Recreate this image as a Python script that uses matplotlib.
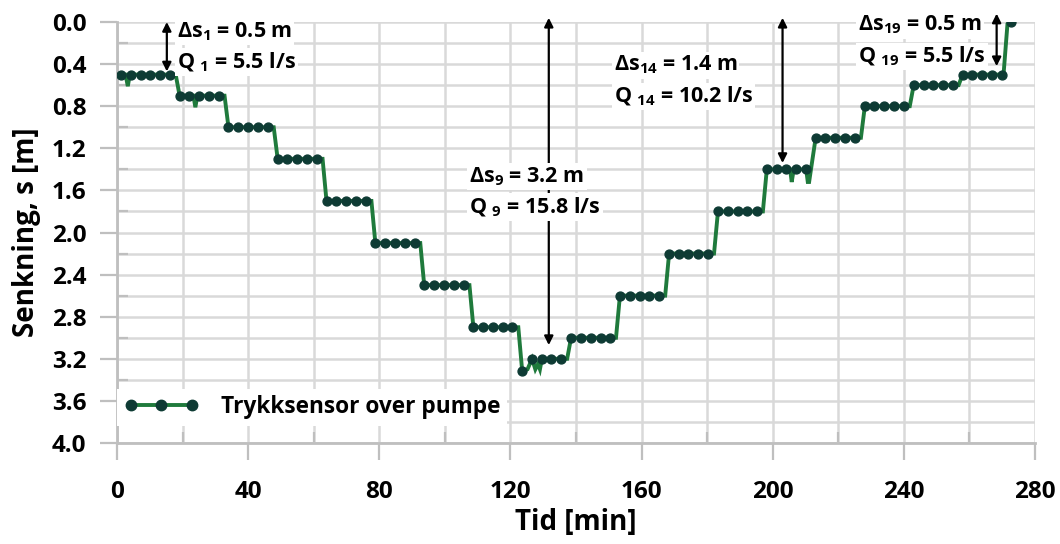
import matplotlib
matplotlib.use("Agg")
import matplotlib.pyplot as plt
from matplotlib.lines import Line2D
from matplotlib.ticker import MultipleLocator

plt.rcParams['font.family'] = ['Open Sans', 'DejaVu Sans']
plt.rcParams['font.weight'] = 'bold'
plt.rcParams['mathtext.fontset'] = 'custom'
plt.rcParams['mathtext.rm'] = 'Open Sans:bold'
plt.rcParams['mathtext.it'] = 'Open Sans:bold'
plt.rcParams['mathtext.bf'] = 'Open Sans:bold'
plt.rcParams['mathtext.default'] = 'rm'

# ---- data ----
# continuous sensor trace: time [min] and drawdown [m]
line_t = [1.2, 2.6, 3.3, 3.9, 4.2, 7.2, 10.2, 13.1, 16.1, 17.9,
          19.1, 22.1, 23.3, 23.9, 24.5, 25.1, 28.1, 31.1, 32.8,
          34.0, 37.0, 40.0, 43.0, 46.0, 47.8,
          49.0, 52.0, 54.9, 57.9, 60.9, 62.7,
          63.9, 66.9, 69.9, 72.8, 75.8, 77.6,
          78.8, 81.8, 84.8, 87.8, 90.8, 92.5,
          93.7, 96.7, 99.7, 102.7, 105.7, 107.5,
          108.7, 111.6, 114.6, 117.6, 120.6, 122.4,
          123.6, 125.2, 126.6, 127.6, 128.4, 129.0, 129.6, 132.5, 135.5, 137.3,
          138.5, 141.5, 144.5, 147.5, 150.5, 152.2,
          153.4, 156.4, 159.4, 162.4, 165.4, 167.2,
          168.4, 171.4, 174.3, 177.3, 180.3, 182.1,
          183.3, 186.3, 189.3, 192.2, 195.2, 197.0,
          198.2, 201.2, 204.2, 205.3, 205.8, 206.4, 207.2, 210.2, 210.7, 211.1,
          213.1, 216.1, 219.1, 222.1, 225.1, 226.9,
          228.1, 231.0, 234.0, 237.0, 240.0, 241.8,
          243.0, 246.0, 249.0, 251.9, 254.9, 256.7,
          257.9, 260.9, 263.9, 266.9, 269.9, 270.4, 271.6, 272.8]
line_s = [0.5, 0.5, 0.61, 0.5, 0.5, 0.5, 0.5, 0.5, 0.5, 0.5,
          0.7, 0.7, 0.7, 0.81, 0.7, 0.7, 0.7, 0.7, 0.7,
          1.0, 1.0, 1.0, 1.0, 1.0, 1.0,
          1.3, 1.3, 1.3, 1.3, 1.3, 1.3,
          1.7, 1.7, 1.7, 1.7, 1.7, 1.7,
          2.1, 2.1, 2.1, 2.1, 2.1, 2.1,
          2.5, 2.5, 2.5, 2.5, 2.5, 2.5,
          2.9, 2.9, 2.9, 2.9, 2.9, 2.9,
          3.32, 3.30, 3.2, 3.3, 3.25, 3.3, 3.2, 3.2, 3.2, 3.2,
          3.0, 3.0, 3.0, 3.0, 3.0, 3.0,
          2.6, 2.6, 2.6, 2.6, 2.6, 2.6,
          2.2, 2.2, 2.2, 2.2, 2.2, 2.2,
          1.8, 1.8, 1.8, 1.8, 1.8, 1.8,
          1.4, 1.4, 1.4, 1.4, 1.52, 1.4, 1.4, 1.4, 1.52, 1.52,
          1.1, 1.1, 1.1, 1.1, 1.1, 1.1,
          0.8, 0.8, 0.8, 0.8, 0.8, 0.8,
          0.6, 0.6, 0.6, 0.6, 0.6, 0.6,
          0.5, 0.5, 0.5, 0.5, 0.5, 0.5, 0.02, 0.0]

# logged points (markers)
dot_t = [1.2, 4.2, 7.2, 10.2, 13.1, 16.1,
         19.1, 22.1, 25.1, 28.1, 31.1,
         34.0, 37.0, 40.0, 43.0, 46.0,
         49.0, 52.0, 54.9, 57.9, 60.9,
         63.9, 66.9, 69.9, 72.8, 75.8,
         78.8, 81.8, 84.8, 87.8, 90.8,
         93.7, 96.7, 99.7, 102.7, 105.7,
         108.7, 111.6, 114.6, 117.6, 120.6,
         123.6, 126.6, 129.6, 132.5, 135.5,
         138.5, 141.5, 144.5, 147.5, 150.5,
         153.4, 156.4, 159.4, 162.4, 165.4,
         168.4, 171.4, 174.3, 177.3, 180.3,
         183.3, 186.3, 189.3, 192.2, 195.2,
         198.2, 201.2, 204.2, 207.2, 210.2,
         213.1, 216.1, 219.1, 222.1, 225.1,
         228.1, 231.0, 234.0, 237.0, 240.0,
         243.0, 246.0, 249.0, 251.9, 254.9,
         257.9, 260.9, 263.9, 266.9, 269.9,
         272.8]
dot_s = [0.5, 0.5, 0.5, 0.5, 0.5, 0.5,
         0.7, 0.7, 0.7, 0.7, 0.7,
         1.0, 1.0, 1.0, 1.0, 1.0,
         1.3, 1.3, 1.3, 1.3, 1.3,
         1.7, 1.7, 1.7, 1.7, 1.7,
         2.1, 2.1, 2.1, 2.1, 2.1,
         2.5, 2.5, 2.5, 2.5, 2.5,
         2.9, 2.9, 2.9, 2.9, 2.9,
         3.32, 3.2, 3.2, 3.2, 3.2,
         3.0, 3.0, 3.0, 3.0, 3.0,
         2.6, 2.6, 2.6, 2.6, 2.6,
         2.2, 2.2, 2.2, 2.2, 2.2,
         1.8, 1.8, 1.8, 1.8, 1.8,
         1.4, 1.4, 1.4, 1.4, 1.4,
         1.1, 1.1, 1.1, 1.1, 1.1,
         0.8, 0.8, 0.8, 0.8, 0.8,
         0.6, 0.6, 0.6, 0.6, 0.6,
         0.5, 0.5, 0.5, 0.5, 0.5,
         0.0]

# annotation arrows: time, top, bottom
arrow_t = [15.2, 131.7, 203.0, 268.3]
arrow_top = [0.0, -0.04, -0.04, -0.08]
arrow_bot = [0.47, 3.07, 1.34, 0.42]

# annotation labels
label_ds = ["Δs$_1$ = 0.5 m", "Δs$_9$ = 3.2 m", "Δs$_{14}$ = 1.4 m", "Δs$_{19}$ = 0.5 m"]
label_q = ["Q $_1$ = 5.5 l/s", "Q $_9$ = 15.8 l/s", "Q $_{14}$ = 10.2 l/s", "Q $_{19}$ = 5.5 l/s"]
label_x = [18.3, 107.5, 151.5, 226.0]
label_y_ds = [0.09, 1.47, 0.41, 0.03]
label_y_q = [0.38, 1.76, 0.71, 0.33]

series_name = "Trykksensor over pumpe"
x_ticks = [0, 40, 80, 120, 160, 200, 240, 280]
y_ticks = [0.0, 0.4, 0.8, 1.2, 1.6, 2.0, 2.4, 2.8, 3.2, 3.6, 4.0]

GREEN = '#1f7a3c'
DARK = '#0e3b34'
GRID = '#d9d9d9'
AXC = '#bfbfbf'

fig = plt.figure(figsize=(10.6, 5.44), dpi=100)
ax = fig.add_axes([117 / 1060, 1 - 443 / 544, (1035 - 117) / 1060, 421 / 544])

ax.plot(line_t, line_s, color=GREEN, lw=2.8, zorder=3, solid_joinstyle='miter')
ax.plot(dot_t, dot_s, linestyle='none', marker='o', ms=6.4, mfc=DARK, mec=DARK, zorder=4)

ax.set_xlim(0, 280)
ax.set_ylim(4.0, 0.0)
ax.set_xticks(x_ticks)
ax.set_xticklabels([str(v) for v in x_ticks])
ax.set_yticks(y_ticks)
ax.set_yticklabels([f"{v:.1f}" for v in y_ticks])
ax.xaxis.set_minor_locator(MultipleLocator(20))
ax.yaxis.set_minor_locator(MultipleLocator(0.2))
ax.grid(which='both', color=GRID, lw=1.8)
ax.set_axisbelow(True)

for side in ['top', 'right']:
    ax.spines[side].set_visible(False)
for side in ['left', 'bottom']:
    ax.spines[side].set_color(AXC)
    ax.spines[side].set_linewidth(2)

ax.tick_params(which='major', direction='out', length=12, width=1.6, color=AXC,
               labelsize=17.5, labelcolor='black')
ax.tick_params(axis='x', which='major', pad=15)
ax.tick_params(axis='y', which='major', pad=10)
ax.tick_params(which='minor', direction='in', length=8, width=1.6, color=AXC)
for lab in ax.get_xticklabels() + ax.get_yticklabels():
    lab.set_fontweight('bold')

ax.set_xlabel("Tid [min]", fontsize=20, fontweight='bold')
ax.set_ylabel("Senkning, s [m]", fontsize=20, fontweight='bold')
ax.xaxis.set_label_coords(0.5, -0.155)
ax.yaxis.set_label_coords(-0.083, 0.5)

for t, a, b in zip(arrow_t, arrow_top, arrow_bot):
    ax.annotate('', xy=(t, b), xytext=(t, a),
                arrowprops=dict(arrowstyle='<|-|>', color='black', lw=1.6,
                                mutation_scale=13, shrinkA=0, shrinkB=0),
                annotation_clip=False, zorder=5)

box = dict(facecolor='white', edgecolor='none', pad=1.5)
for x, yd, yq, ld, lq in zip(label_x, label_y_ds, label_y_q, label_ds, label_q):
    ax.text(x, yd, ld, fontsize=15.5, fontweight='bold', va='center', ha='left',
            bbox=box, zorder=6)
    ax.text(x, yq, lq, fontsize=15.5, fontweight='bold', va='center', ha='left',
            bbox=box, zorder=6)

handle = Line2D([], [], color=GREEN, lw=2.8, marker='o', ms=7.5, mfc=DARK, mec=DARK)
leg = ax.legend([handle], [series_name], loc='lower left', bbox_to_anchor=(0.0, 0.04),
                numpoints=3, handlelength=3.3, frameon=True, fancybox=False,
                framealpha=1, facecolor='white', edgecolor='none',
                prop={'size': 16.3, 'weight': 'bold'}, borderaxespad=0.0,
                borderpad=0.3, handletextpad=1.0)
leg.set_zorder(7)

fig.savefig('out.png', dpi=100)
